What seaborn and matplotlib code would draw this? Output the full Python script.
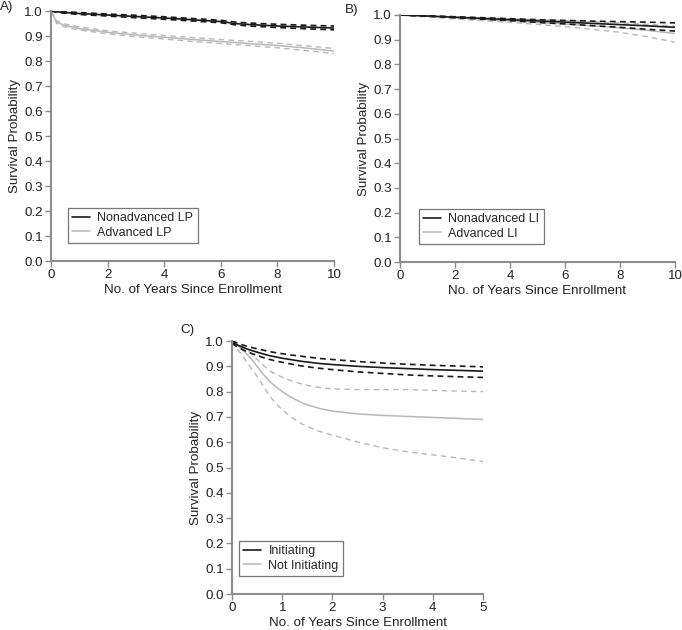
import matplotlib
matplotlib.use("Agg")
import matplotlib.pyplot as plt
import seaborn as sns

# ---------------- data ----------------
A_years = [0, 0.2, 0.5, 1, 2, 3, 4, 5, 6, 6.5, 7, 8, 9, 10]
A_nonadv = [1.0, 0.997, 0.994, 0.990, 0.984, 0.978, 0.972, 0.965, 0.958, 0.950, 0.946, 0.940, 0.936, 0.932]
A_nonadv_hi = [1.0, 0.999, 0.997, 0.994, 0.988, 0.983, 0.977, 0.970, 0.963, 0.956, 0.952, 0.947, 0.943, 0.940]
A_nonadv_lo = [1.0, 0.995, 0.991, 0.986, 0.980, 0.973, 0.967, 0.960, 0.953, 0.945, 0.940, 0.934, 0.929, 0.925]
A_adv = [1.0, 0.955, 0.942, 0.930, 0.915, 0.904, 0.895, 0.886, 0.878, 0.874, 0.870, 0.862, 0.852, 0.840]
A_adv_hi = [1.0, 0.960, 0.948, 0.936, 0.921, 0.911, 0.902, 0.894, 0.886, 0.882, 0.879, 0.871, 0.861, 0.850]
A_adv_lo = [1.0, 0.950, 0.936, 0.924, 0.909, 0.897, 0.888, 0.878, 0.870, 0.866, 0.862, 0.853, 0.842, 0.830]

B_years = [0, 1, 2, 3, 4, 5, 6, 7, 8, 9, 10]
B_nonadv = [1.0, 0.996, 0.991, 0.986, 0.981, 0.976, 0.971, 0.966, 0.961, 0.956, 0.950]
B_nonadv_hi = [1.0, 0.997, 0.993, 0.989, 0.985, 0.981, 0.978, 0.975, 0.973, 0.971, 0.968]
B_nonadv_lo = [1.0, 0.995, 0.989, 0.983, 0.977, 0.970, 0.964, 0.957, 0.950, 0.942, 0.935]
B_adv = [1.0, 0.995, 0.989, 0.983, 0.977, 0.970, 0.963, 0.956, 0.948, 0.938, 0.925]
B_adv_hi = [1.0, 0.997, 0.993, 0.989, 0.985, 0.981, 0.977, 0.973, 0.968, 0.962, 0.955]
B_adv_lo = [1.0, 0.992, 0.984, 0.977, 0.970, 0.962, 0.953, 0.942, 0.930, 0.912, 0.890]

C_years = [0, 0.1, 0.25, 0.4, 0.5, 0.6, 0.75, 0.9, 1, 1.125, 1.25, 1.375, 1.5, 1.75, 2, 2.5, 3, 3.5, 4, 4.5, 5]
C_init = [0.995, 0.985, 0.972, 0.962, 0.956, 0.950, 0.942, 0.936, 0.932, 0.928, 0.924, 0.920, 0.917, 0.911, 0.907, 0.900, 0.895, 0.891, 0.887, 0.884, 0.881]
C_init_hi = [1.0, 0.993, 0.982, 0.974, 0.969, 0.965, 0.958, 0.953, 0.950, 0.946, 0.943, 0.940, 0.937, 0.931, 0.927, 0.919, 0.913, 0.908, 0.904, 0.901, 0.898]
C_init_lo = [0.99, 0.978, 0.962, 0.950, 0.943, 0.936, 0.927, 0.920, 0.916, 0.911, 0.906, 0.902, 0.898, 0.892, 0.887, 0.878, 0.872, 0.866, 0.862, 0.859, 0.856]
C_not = [1.0, 0.985, 0.958, 0.925, 0.900, 0.874, 0.840, 0.815, 0.800, 0.784, 0.770, 0.758, 0.748, 0.733, 0.723, 0.712, 0.706, 0.702, 0.698, 0.694, 0.690]
C_not_hi = [1.0, 0.990, 0.975, 0.948, 0.928, 0.908, 0.882, 0.866, 0.857, 0.847, 0.838, 0.831, 0.825, 0.816, 0.811, 0.808, 0.808, 0.808, 0.805, 0.802, 0.800]
C_not_lo = [1.0, 0.970, 0.930, 0.887, 0.860, 0.830, 0.782, 0.748, 0.728, 0.708, 0.690, 0.674, 0.662, 0.642, 0.628, 0.601, 0.578, 0.562, 0.550, 0.538, 0.523]

A_labels = ["Nonadvanced LP", "Advanced LP"]
B_labels = ["Nonadvanced LI", "Advanced LI"]
C_labels = ["Initiating", "Not Initiating"]
y_ticks = [0.0, 0.1, 0.2, 0.3, 0.4, 0.5, 0.6, 0.7, 0.8, 0.9, 1.0]

# ---------------- style ----------------
sns.set_theme(style="ticks")
plt.rcParams["font.family"] = ["Liberation Sans", "DejaVu Sans"]

FS = 9.6
LFS = 9.0
DARK = "#1a1a1a"
LIGHT = "#b8b8b8"
SPINE = "#8c8c8c"
TXT = "#222222"

fig = plt.figure(figsize=(6.82, 6.30), dpi=100)
axA = fig.add_axes([0.0748, 0.5857, 0.4150, 0.3968])
axB = fig.add_axes([0.5865, 0.5841, 0.4032, 0.3921])
axC = fig.add_axes([0.3402, 0.0571, 0.3680, 0.4016])


def panel(ax, years, series, labels, xmax, xticks, legpos):
    (m1, h1, l1), (m2, h2, l2) = series
    sns.lineplot(x=years, y=h2, ax=ax, color=LIGHT, lw=1.0,
                 linestyle=(0, (4, 3)), legend=False)
    sns.lineplot(x=years, y=l2, ax=ax, color=LIGHT, lw=1.0,
                 linestyle=(0, (4, 3)), legend=False)
    sns.lineplot(x=years, y=m2, ax=ax, color=LIGHT, lw=1.1, label=labels[1])
    sns.lineplot(x=years, y=h1, ax=ax, color=DARK, lw=1.2,
                 linestyle=(0, (3.5, 2.5)), legend=False)
    sns.lineplot(x=years, y=l1, ax=ax, color=DARK, lw=1.2,
                 linestyle=(0, (3.5, 2.5)), legend=False)
    sns.lineplot(x=years, y=m1, ax=ax, color=DARK, lw=1.2, label=labels[0])

    ax.set_xlim(0, xmax)
    ax.set_ylim(0, 1.0)
    ax.set_xticks(xticks)
    ax.set_yticks(y_ticks)
    ax.set_yticklabels([f"{v:.1f}" for v in y_ticks])
    ax.set_xlabel("No. of Years Since Enrollment", fontsize=FS, color=TXT, labelpad=2)
    ax.set_ylabel("Survival Probability", fontsize=FS, color=TXT, labelpad=2)
    for s in ["top", "right"]:
        ax.spines[s].set_visible(False)
    for s in ["left", "bottom"]:
        ax.spines[s].set_color(SPINE)
        ax.spines[s].set_linewidth(1.5)
    ax.tick_params(axis="both", direction="out", length=4, width=1.0,
                   color=SPINE, labelcolor=TXT, labelsize=FS, pad=2)
    ax.margins(0)
    handles, labs = ax.get_legend_handles_labels()
    order = [labs.index(labels[0]), labs.index(labels[1])]
    leg = ax.legend([handles[i] for i in order], [labs[i] for i in order],
                    loc="lower left", bbox_to_anchor=legpos, borderaxespad=0,
                    frameon=True, fancybox=False, fontsize=LFS, handlelength=1.4,
                    handletextpad=0.6, borderpad=0.35, labelspacing=0.2)
    leg.get_frame().set_edgecolor("#555555")
    leg.get_frame().set_linewidth(0.9)


panel(axA, A_years, [(A_nonadv, A_nonadv_hi, A_nonadv_lo), (A_adv, A_adv_hi, A_adv_lo)],
      A_labels, 10, [0, 2, 4, 6, 8, 10], (0.06, 0.072))
panel(axB, B_years, [(B_nonadv, B_nonadv_hi, B_nonadv_lo), (B_adv, B_adv_hi, B_adv_lo)],
      B_labels, 10, [0, 2, 4, 6, 8, 10], (0.069, 0.073))
panel(axC, C_years, [(C_init, C_init_hi, C_init_lo), (C_not, C_not_hi, C_not_lo)],
      C_labels, 5, [0, 1, 2, 3, 4, 5], (0.028, 0.071))

fig.text(0.0, 0.998, "A)", fontsize=FS, va="top", ha="left", color=TXT)
fig.text(0.506, 0.994, "B)", fontsize=FS, va="top", ha="left", color=TXT)
fig.text(0.264, 0.486, "C)", fontsize=FS, va="top", ha="left", color=TXT)

fig.savefig("out.png", dpi=100)
